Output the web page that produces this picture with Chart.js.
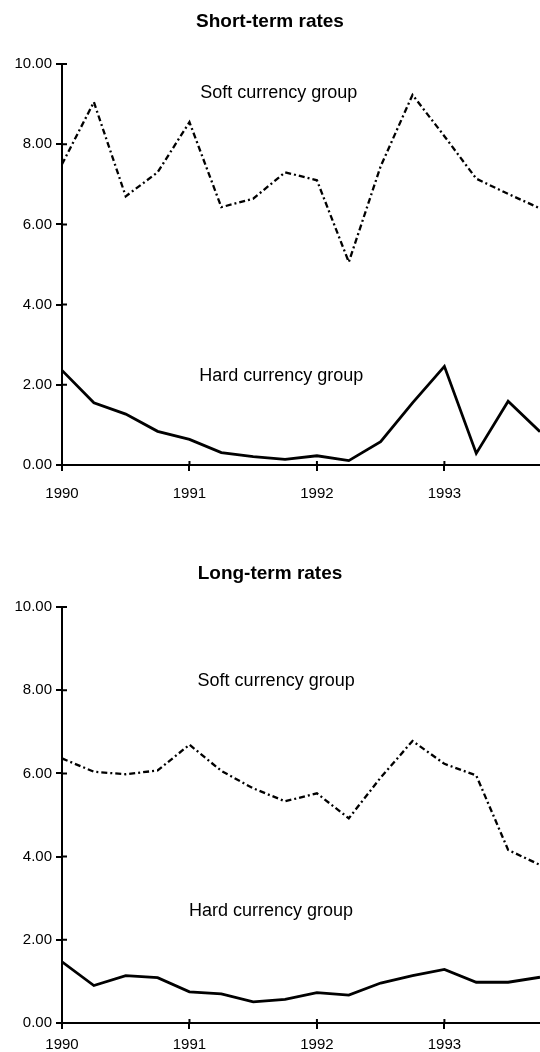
<!DOCTYPE html>
<html>
<head>
<meta charset="utf-8">
<script src="https://cdn.jsdelivr.net/npm/chart.js@4.4.1/dist/chart.umd.min.js"></script>
<style>
  html, body { margin: 0; padding: 0; background: #fff; overflow: hidden; }
  .box { position: absolute; left: 0; width: 540px; }
  #shortBox { top: 0; height: 515px; }
  #longBox { top: 512px; height: 540px; }
</style>
</head>
<body>
<div class="box" id="shortBox"><canvas id="shortChart"></canvas></div>
<div class="box" id="longBox"><canvas id="longChart"></canvas></div>
<script>
// quarterly observations, 1990 Q1 .. 1993 Q4
const quarters = [1990, 1990.25, 1990.5, 1990.75, 1991, 1991.25, 1991.5, 1991.75,
  1992, 1992.25, 1992.5, 1992.75, 1993, 1993.25, 1993.5, 1993.75];

const shortSoft = [7.5, 9.05, 6.7, 7.3, 8.55, 6.43, 6.64, 7.3, 7.1, 5.06, 7.45, 9.23, 8.2, 7.14, 6.76, 6.4];
const shortHard = [2.36, 1.55, 1.27, 0.84, 0.64, 0.31, 0.21, 0.14, 0.23, 0.11, 0.58, 1.55, 2.46, 0.29, 1.59, 0.83];
const longSoft = [6.36, 6.04, 5.98, 6.07, 6.69, 6.06, 5.64, 5.33, 5.52, 4.92, 5.9, 6.78, 6.23, 5.95, 4.16, 3.8];
const longHard = [1.47, 0.9, 1.14, 1.09, 0.75, 0.7, 0.51, 0.57, 0.73, 0.67, 0.96, 1.14, 1.29, 0.98, 0.98, 1.1];

const yearTicks = [1990, 1991, 1992, 1993];
const seriesNames = ["Soft currency group", "Hard currency group"];

const FONT = "'Liberation Sans', Arial, Helvetica, sans-serif";

function toPoints(vals) {
  return vals.map((v, i) => ({ x: quarters[i], y: v }));
}

// group names written inside the plot, placed in data units
const notesPlugin = {
  id: "notes",
  afterDatasetsDraw(chart, args, opts) {
    const ctx = chart.ctx;
    const xs = chart.scales.x, ys = chart.scales.y;
    ctx.save();
    ctx.fillStyle = "#000";
    ctx.font = "18px " + FONT;
    ctx.textAlign = "center";
    ctx.textBaseline = "middle";
    opts.items.forEach((n) => {
      ctx.fillText(n.text, xs.getPixelForValue(n.x), ys.getPixelForValue(n.y));
    });
    ctx.restore();
  },
};

// inner half of the cross-shaped tick marks
const innerTicks = {
  id: "innerTicks",
  afterDraw(chart) {
    const ctx = chart.ctx;
    const xs = chart.scales.x, ys = chart.scales.y;
    ctx.save();
    ctx.strokeStyle = "#000";
    ctx.lineWidth = 2;
    ctx.beginPath();
    ys.ticks.forEach((t, i) => {
      const py = ys.getPixelForTick(i);
      ctx.moveTo(ys.right, py);
      ctx.lineTo(ys.right + 5, py);
    });
    xs.ticks.forEach((t, i) => {
      const px = xs.getPixelForTick(i);
      ctx.moveTo(px, xs.top);
      ctx.lineTo(px, xs.top - 4);
    });
    ctx.stroke();
    ctx.restore();
  },
};

function makeChart(id, title, soft, hard, g) {
  return new Chart(id, {
    type: "line",
    data: {
      datasets: [
        {
          label: seriesNames[0],
          data: toPoints(soft),
          borderColor: "#000",
          borderWidth: 2.3,
          borderDash: [6, 3, 2, 3],
          pointRadius: 0,
          tension: 0,
        },
        {
          label: seriesNames[1],
          data: toPoints(hard),
          borderColor: "#000",
          borderWidth: 2.8,
          pointRadius: 0,
          tension: 0,
        },
      ],
    },
    options: {
      responsive: true,
      maintainAspectRatio: false,
      animation: false,
      layout: { padding: { left: 0, right: 0, top: 0, bottom: 0 } },
      plugins: {
        legend: { display: false },
        tooltip: { enabled: false },
        title: {
          display: true,
          text: title,
          color: "#000",
          font: { family: FONT, size: 19, weight: "bold" },
          padding: { top: g.titleTop, bottom: g.titleBottom },
        },
        notes: { items: g.notes },
      },
      scales: {
        x: {
          type: "linear",
          min: quarters[0],
          max: quarters[quarters.length - 1],
          afterFit: (s) => { s.height = g.xHeight; },
          afterBuildTicks: (s) => { s.ticks = yearTicks.map((v) => ({ value: v })); },
          border: { color: "#000", width: 2 },
          grid: { drawOnChartArea: false, color: "#000", lineWidth: 2, tickLength: 6 },
          ticks: {
            color: "#000",
            padding: g.xPad,
            maxRotation: 0,
            font: { family: FONT, size: 15 },
            callback: (v) => String(v),
          },
        },
        y: {
          min: 0,
          max: 10,
          afterFit: (s) => { s.width = 62; },
          border: { color: "#000", width: 2 },
          grid: { drawOnChartArea: false, color: "#000", lineWidth: 2, tickLength: 6 },
          ticks: {
            stepSize: 2,
            color: "#000",
            padding: 4,
            font: { family: FONT, size: 15 },
            callback: (v) => v.toFixed(2),
          },
        },
      },
    },
    plugins: [notesPlugin, innerTicks],
  });
}

makeChart("shortChart", "Short-term rates", shortSoft, shortHard, {
  titleTop: 10.6,
  titleBottom: 30.6,
  xHeight: 50,
  xPad: 14,
  notes: [
    { text: seriesNames[0], x: 1991.7, y: 9.28 },
    { text: seriesNames[1], x: 1991.72, y: 2.22 },
  ],
});

makeChart("longChart", "Long-term rates", longSoft, longHard, {
  titleTop: 50.6,
  titleBottom: 21.6,
  xHeight: 29,
  xPad: 7,
  notes: [
    { text: seriesNames[0], x: 1991.68, y: 8.22 },
    { text: seriesNames[1], x: 1991.64, y: 2.69 },
  ],
});
</script>
</body>
</html>
